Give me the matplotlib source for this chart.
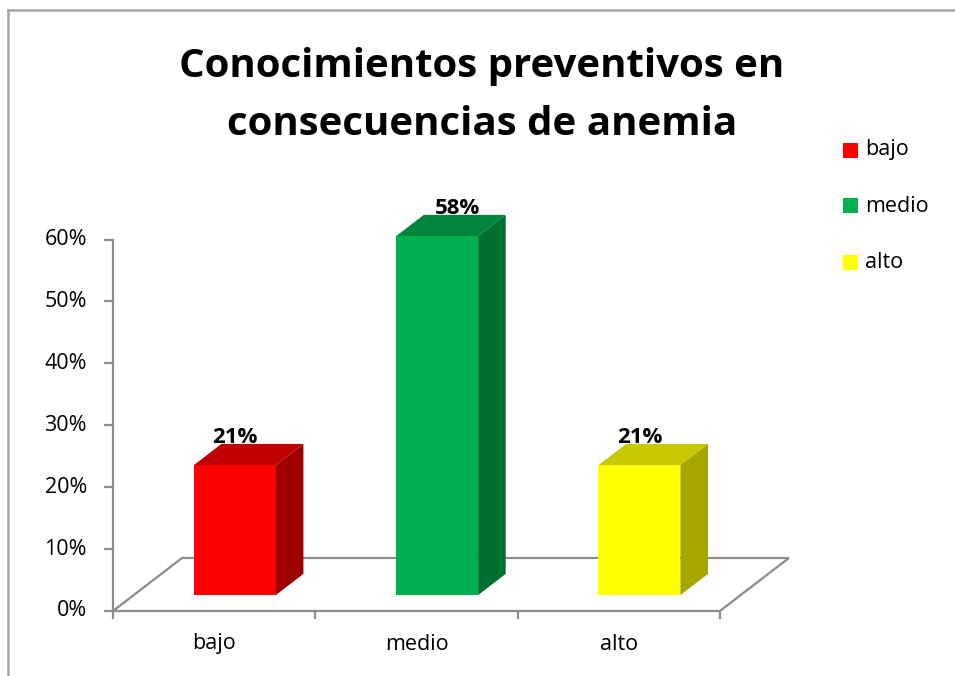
import matplotlib
matplotlib.use("Agg")
import matplotlib.pyplot as plt
from matplotlib.patches import Polygon, Rectangle
from matplotlib.lines import Line2D

plt.rcParams['font.family'] = ['Open Sans', 'DejaVu Sans']

categorias = ['bajo', 'medio', 'alto']
valores = [21, 58, 21]
etiquetas = ['21%', '58%', '21%']
ticks_y = [0, 10, 20, 30, 40, 50, 60]
titulo = ['Conocimientos preventivos en', 'consecuencias de anemia']

col_frente = ['#FF0000', '#00B050', '#FFFF00']
col_arriba = ['#C00000', '#00853C', '#C8C800']
col_lado = ['#9E0000', '#006F32', '#A6A600']

W, H = 955, 676
fig = plt.figure(figsize=(W / 100, H / 100), dpi=100)
ax = fig.add_axes([0, 0, 1, 1])
ax.axis('off')

# escala en pixeles: una categoria = 202.3 px, 1% = 6.19 px, origen en (113, 611)
cx, cy, x0px, y0px = 202.3, 6.19, 113, 611
ax.set_xlim(-x0px / cx, (W - x0px) / cx)
ax.set_ylim((y0px - H) / cy, y0px / cy)

DX, DY = 69 / cx, 53 / cy  # profundidad del piso
gris = '#8C8C8C'
n = len(categorias)


def P(x, v, d):
    return (x + d * DX, v + d * DY)


# piso
piso = [P(0, 0, 0), P(0, 0, 1), P(n, 0, 1), P(n, 0, 0)]
ax.add_patch(Polygon(piso, closed=True, fill=False, ec=gris, lw=1.6, zorder=1))
# eje vertical
ax.plot([0, 0], [0, ticks_y[-1]], color=gris, lw=1.6, zorder=1)
for t in ticks_y:
    ax.plot([-8 / cx, 0], [t, t], color=gris, lw=1.6, zorder=1)
    ax.text(-26 / cx, t, f'{t}%', ha='right', va='center', fontsize=15.5)
for i in range(n + 1):
    ax.plot([i, i], [0, -7 / cy], color=gris, lw=1.6, zorder=1)
for i, c in enumerate(categorias):
    ax.text(i + 0.5, -33 / cy, c, ha='center', va='center', fontsize=15.5)

# barras 3d
ancho, d0, d1 = 0.405, 0.3, 0.7
dx_lbl = [0, 0.1, 0]
for i, v in enumerate(valores):
    xa = i + 0.5 - ancho / 2
    xb = i + 0.5 + ancho / 2
    lado = [P(xb, 0, d0), P(xb, 0, d1), P(xb, v, d1), P(xb, v, d0)]
    tapa = [P(xa, v, d0), P(xb, v, d0), P(xb, v, d1), P(xa, v, d1)]
    frente = [P(xa, 0, d0), P(xb, 0, d0), P(xb, v, d0), P(xa, v, d0)]
    ax.add_patch(Polygon(lado, closed=True, fc=col_lado[i], ec='none', zorder=3))
    ax.add_patch(Polygon(tapa, closed=True, fc=col_arriba[i], ec='none', zorder=3))
    ax.add_patch(Polygon(frente, closed=True, fc=col_frente[i], ec='none', zorder=3))
    lx, ly = P(i + 0.5 + dx_lbl[i], v, d1)
    ax.text(lx - DX * 0.4, ly + 0.2, etiquetas[i], ha='center', va='baseline',
            fontsize=16, fontweight='bold', zorder=4)

# titulo
fig.text(482 / W, 1 - 77 / H, titulo[0], ha='center', va='baseline',
         fontsize=29, fontweight='bold')
fig.text(482 / W, 1 - 135 / H, titulo[1], ha='center', va='baseline',
         fontsize=29, fontweight='bold')

# leyenda
ley_y = [150, 206, 262]
for c, col, yy in zip(categorias, col_frente, ley_y):
    fig.patches.append(Rectangle((843 / W, 1 - (yy + 7.5) / H), 15 / W, 15 / H,
                                 transform=fig.transFigure, fc=col, ec='none'))
    fig.text(865 / W, 1 - yy / H, c, ha='left', va='center', fontsize=15.5)

# borde del grafico
fig.lines.append(Line2D([8 / W, 8 / W], [0, 1 - 10 / H], transform=fig.transFigure,
                        color='#A6A6A6', lw=1.8))
fig.lines.append(Line2D([8 / W, 1], [1 - 10 / H, 1 - 10 / H], transform=fig.transFigure,
                        color='#A6A6A6', lw=1.8))

fig.savefig('out.png', dpi=100)
